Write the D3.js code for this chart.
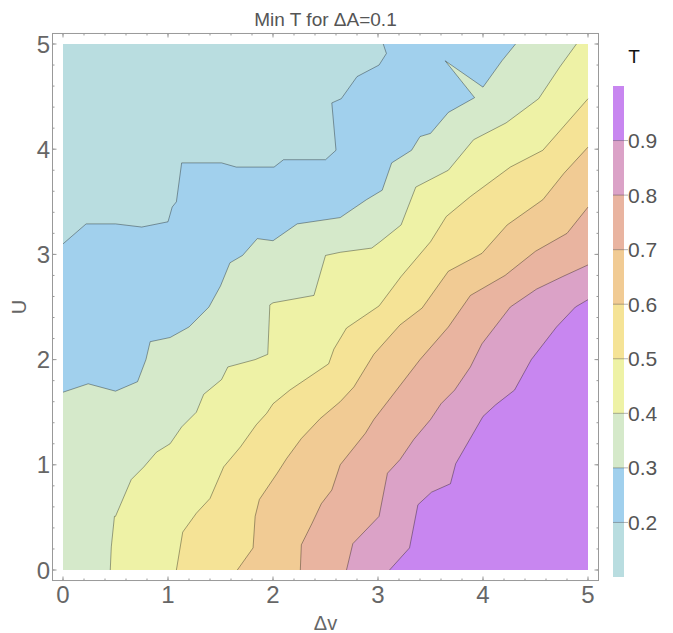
<!DOCTYPE html>
<html>
<head>
<meta charset="utf-8">
<script src="https://cdn.jsdelivr.net/npm/d3@7"></script>
<style>
  body { margin: 0; background: #fff; }
  text { font-family: "Liberation Sans", Arial, sans-serif; }
</style>
</head>
<body>
<div id="chart"></div>
<script>
// DATA
const levels = [0.2, 0.3, 0.4, 0.5, 0.6, 0.7, 0.8, 0.9]
const legendRange = [0.1, 1.0]
const legendTicks = [0.2, 0.3, 0.4, 0.5, 0.6, 0.7, 0.8, 0.9]
const xTicks = [0, 1, 2, 3, 4, 5]
const yTicks = [0, 1, 2, 3, 4, 5]

// contour lines, each [Δv, U], from left/bottom edge to top/right edge
const c02 = [[0,3.10],[0.22,3.29],[0.50,3.29],[0.75,3.26],[1.00,3.31],[1.04,3.45],[1.08,3.50],[1.13,3.87],[1.51,3.87],[1.65,3.83],[2.01,3.83],[2.10,3.90],[2.50,3.90],[2.60,3.99],[2.56,4.44],[2.65,4.48],[2.80,4.69],[3.01,4.80],[3.08,4.91],[3.05,5]]
const c03 = [[0,1.69],[0.24,1.77],[0.50,1.70],[0.71,1.79],[0.79,2.00],[0.83,2.17],[1.02,2.21],[1.20,2.31],[1.39,2.50],[1.50,2.70],[1.59,2.92],[1.71,2.99],[1.85,3.15],[2.00,3.13],[2.23,3.29],[2.64,3.35],[2.89,3.52],[3.04,3.61],[3.13,3.87],[3.32,3.99],[3.40,4.12],[3.50,4.15],[3.67,4.35],[3.92,4.49],[3.64,4.84],[4.00,4.59],[4.18,4.84],[4.31,5]]
const c04 = [[0.45,0],[0.46,0.22],[0.49,0.51],[0.50,0.51],[0.65,0.86],[0.77,0.98],[0.89,1.12],[1.02,1.20],[1.13,1.36],[1.27,1.50],[1.34,1.67],[1.51,1.81],[1.57,1.93],[1.83,2.00],[1.95,2.05],[1.97,2.52],[2.00,2.54],[2.39,2.61],[2.50,2.99],[2.64,3.02],[2.94,3.06],[3.02,3.12],[3.22,3.28],[3.36,3.64],[3.67,3.80],[3.91,4.09],[4.22,4.25],[4.53,4.48],[4.73,4.78],[4.89,5]]
const c05 = [[1.08,0],[1.14,0.36],[1.27,0.54],[1.40,0.68],[1.53,0.98],[1.69,1.17],[1.84,1.38],[1.94,1.49],[2.00,1.58],[2.16,1.71],[2.53,1.96],[2.58,2.10],[2.70,2.30],[3.01,2.51],[3.22,2.79],[3.50,3.12],[3.65,3.36],[3.88,3.55],[4.26,3.83],[4.57,3.99],[5,4.48]]
const c06 = [[1.66,0],[1.81,0.21],[1.83,0.51],[1.87,0.67],[2.04,0.92],[2.13,1.06],[2.27,1.25],[2.45,1.44],[2.64,1.60],[2.77,1.74],[2.96,2.05],[3.21,2.33],[3.42,2.49],[3.67,2.84],[3.99,3.01],[4.23,3.28],[4.57,3.52],[4.77,3.77],[5,4.02]]
const c07 = [[2.26,0],[2.27,0.24],[2.37,0.44],[2.46,0.63],[2.56,0.76],[2.64,1.00],[2.88,1.30],[2.96,1.43],[3.40,2.00],[3.67,2.31],[3.88,2.61],[4.21,2.80],[4.50,3.03],[4.80,3.20],[5,3.45]]
const c08 = [[2.70,0],[2.76,0.25],[3.01,0.51],[3.09,0.92],[3.21,1.05],[3.34,1.24],[3.50,1.43],[3.60,1.58],[3.73,1.71],[3.88,1.93],[3.99,2.15],[4.26,2.50],[4.51,2.67],[4.76,2.79],[5,2.90]]
const c09 = [[3.11,0],[3.30,0.21],[3.38,0.62],[3.51,0.74],[3.69,0.82],[3.74,1.01],[4.00,1.46],[4.12,1.57],[4.30,1.71],[4.46,2.00],[4.70,2.31],[4.88,2.50],[5,2.57]]
const contours = [c02, c03, c04, c05, c06, c07, c08, c09]

// band colours, lowest (0.1-0.2) to highest (0.9-1.0)
const bandColors = ["#b9dde0", "#a1d0ed", "#d5e9ca", "#eef2a6", "#f5e396", "#f1cb94", "#e9b4a0", "#dba2c7", "#c886f0"]

const width = 673, height = 633

const xScale = d3.scaleLinear().domain([0, 5]).range([63, 588])
const yScale = d3.scaleLinear().domain([0, 5]).range([570, 44])
const legendScale = d3.scaleLinear().domain(legendRange).range([577, 86])

const svg = d3.select("#chart")
  .append("svg")
  .attr("width", width)
  .attr("height", height)

const line = d3.line()
  .x(d => xScale(d[0]))
  .y(d => yScale(d[1]))

// region where T is above a level: contour plus the bottom-right edges
function closeRegion(pts) {
  const out = pts.slice()
  const first = pts[0], last = pts[pts.length - 1]
  if (last[1] === 5) out.push([5, 5])
  out.push([5, 0])
  if (first[0] === 0) out.push([0, 0])
  return out
}

// + BACKGROUND BAND
svg.append("rect")
  .attr("x", xScale(0))
  .attr("y", yScale(5))
  .attr("width", xScale(5) - xScale(0))
  .attr("height", yScale(0) - yScale(5))
  .attr("fill", bandColors[0])

// + FILLED BANDS
svg.append("g")
  .selectAll("path")
  .data(contours)
  .join("path")
    .attr("d", d => line(closeRegion(d)) + "Z")
    .attr("fill", (d, i) => bandColors[i + 1])

// + CONTOUR LINES
svg.append("g")
  .selectAll("path")
  .data(contours)
  .join("path")
    .attr("d", d => line(d))
    .attr("fill", "none")
    .attr("stroke", "#000")
    .attr("stroke-opacity", 0.35)
    .attr("stroke-width", 1)
    .attr("stroke-linejoin", "round")

// + FRAME
const fx0 = xScale(-0.1), fx1 = xScale(5.1)
const fy0 = yScale(5.1), fy1 = yScale(-0.1)
svg.append("rect")
  .attr("x", fx0).attr("y", fy0)
  .attr("width", fx1 - fx0).attr("height", fy1 - fy0)
  .attr("fill", "none")
  .attr("stroke", "#999")
  .attr("stroke-width", 1)

const minorX = xScale.ticks(25)
const tickG = svg.append("g").attr("stroke", "#999").attr("stroke-width", 1)

function drawTicks(vals, len) {
  vals.forEach(v => {
    const x = xScale(v), y = yScale(v)
    tickG.append("line").attr("x1", x).attr("x2", x).attr("y1", fy1).attr("y2", fy1 - len)
    tickG.append("line").attr("x1", x).attr("x2", x).attr("y1", fy0).attr("y2", fy0 + len)
    tickG.append("line").attr("y1", y).attr("y2", y).attr("x1", fx0).attr("x2", fx0 + len)
    tickG.append("line").attr("y1", y).attr("y2", y).attr("x1", fx1).attr("x2", fx1 - len)
  })
}
drawTicks(minorX, 2)
drawTicks(xTicks, 4)

// + TICK LABELS
svg.append("g")
  .selectAll("text")
  .data(xTicks)
  .join("text")
    .attr("x", d => xScale(d))
    .attr("y", 603)
    .attr("text-anchor", "middle")
    .attr("font-size", 24)
    .attr("fill", "#666")
    .text(d => d)

svg.append("g")
  .selectAll("text")
  .data(yTicks)
  .join("text")
    .attr("x", 50)
    .attr("y", d => yScale(d) + 8.5)
    .attr("text-anchor", "end")
    .attr("font-size", 24)
    .attr("fill", "#666")
    .text(d => d)

// + TITLES
svg.append("text")
  .attr("x", (fx0 + fx1) / 2)
  .attr("y", 26)
  .attr("text-anchor", "middle")
  .attr("font-size", 19)
  .attr("fill", "#555")
  .text("Min T for ΔA=0.1")

svg.append("text")
  .attr("x", (fx0 + fx1) / 2)
  .attr("y", 630)
  .attr("text-anchor", "middle")
  .attr("font-size", 20)
  .attr("fill", "#666")
  .text("Δv")

svg.append("text")
  .attr("transform", `translate(26, ${(fy0 + fy1) / 2}) rotate(-90)`)
  .attr("text-anchor", "middle")
  .attr("font-size", 20)
  .attr("fill", "#666")
  .text("U")

// + LEGEND
const edges = [legendRange[0]].concat(levels, [legendRange[1]])
const legend = svg.append("g")
legend.selectAll("rect")
  .data(bandColors)
  .join("rect")
    .attr("x", 613)
    .attr("width", 11)
    .attr("y", (d, i) => legendScale(edges[i + 1]))
    .attr("height", (d, i) => legendScale(edges[i]) - legendScale(edges[i + 1]))
    .attr("fill", d => d)

legend.selectAll("line")
  .data(legendTicks)
  .join("line")
    .attr("x1", 613)
    .attr("x2", 628)
    .attr("y1", d => legendScale(d))
    .attr("y2", d => legendScale(d))
    .attr("stroke", "#000")
    .attr("stroke-opacity", 0.3)

legend.selectAll("text")
  .data(legendTicks)
  .join("text")
    .attr("x", 628)
    .attr("y", d => legendScale(d) + 7.5)
    .attr("font-size", 21)
    .attr("fill", "#555")
    .text(d => d.toFixed(1))

svg.append("text")
  .attr("x", 634)
  .attr("y", 63)
  .attr("text-anchor", "middle")
  .attr("font-size", 19)
  .attr("fill", "#111")
  .text("T")
</script>
</body>
</html>
